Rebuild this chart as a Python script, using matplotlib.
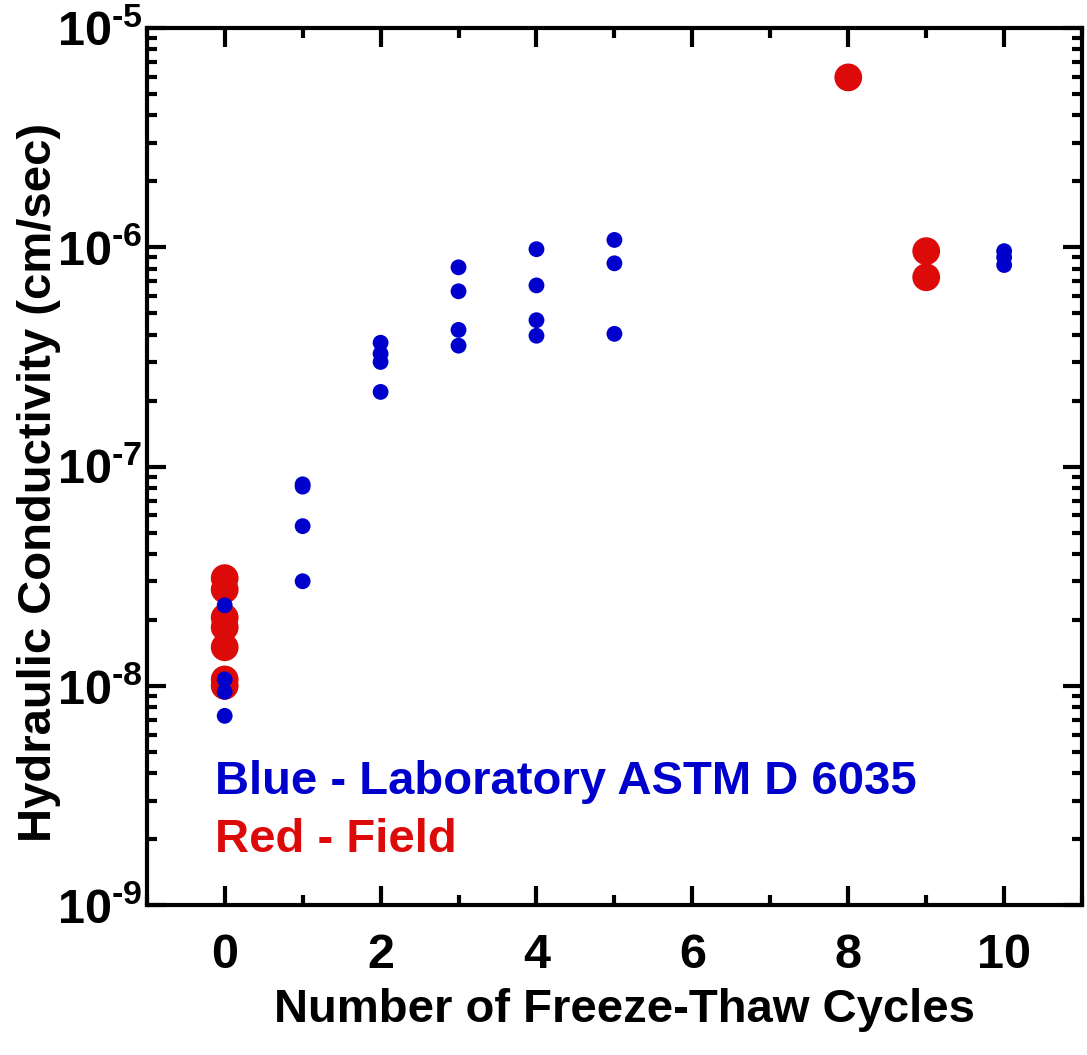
import matplotlib.pyplot as plt
from matplotlib.ticker import FixedLocator, FixedFormatter, LogLocator, NullFormatter

plt.rcParams['font.family'] = ['Liberation Sans', 'DejaVu Sans']
plt.rcParams['font.weight'] = 'bold'
plt.rcParams['mathtext.fontset'] = 'custom'
plt.rcParams['mathtext.rm'] = 'Liberation Sans:bold'
plt.rcParams['mathtext.bf'] = 'Liberation Sans:bold'
plt.rcParams['mathtext.it'] = 'Liberation Sans:bold'

# laboratory (blue) values
lab_x = [0, 0, 0, 0,
         1, 1, 1, 1,
         2, 2, 2, 2,
         3, 3, 3, 3,
         4, 4, 4, 4,
         5, 5, 5,
         10, 10, 10]
lab_k = [2.33e-8, 1.07e-8, 9.4e-9, 7.3e-9,
         8.3e-8, 8.1e-8, 5.35e-8, 3.0e-8,
         3.67e-7, 3.27e-7, 3.0e-7, 2.19e-7,
         8.1e-7, 6.3e-7, 4.2e-7, 3.56e-7,
         9.8e-7, 6.7e-7, 4.65e-7, 3.95e-7,
         1.08e-6, 8.45e-7, 4.03e-7,
         9.6e-7, 9.0e-7, 8.3e-7]

# field (red) values
field_x = [0, 0, 0, 0, 0, 0, 0, 8, 9, 9]
field_k = [3.1e-8, 2.75e-8, 2.05e-8, 1.85e-8, 1.5e-8, 1.07e-8, 1.0e-8,
           5.95e-6, 9.6e-7, 7.3e-7]

x_ticks = [0, 2, 4, 6, 8, 10]
y_ticks = [1e-9, 1e-8, 1e-7, 1e-6, 1e-5]
y_labels = [r'$\mathbf{10^{\text{-}9}}$', r'$\mathbf{10^{\text{-}8}}$', r'$\mathbf{10^{\text{-}7}}$',
            r'$\mathbf{10^{\text{-}6}}$', r'$\mathbf{10^{\text{-}5}}$']

fig = plt.figure(figsize=(10.87, 10.55), dpi=100)
ax = fig.add_axes([0.135, 0.142, 0.8605, 0.8315])

ax.scatter(field_x, field_k, s=400, color='#DD0A0A', edgecolors='none', zorder=3)
ax.scatter(lab_x, lab_k, s=130, color='#0000CC', edgecolors='none', zorder=4)

ax.set_yscale('log')
ax.set_xlim(-1, 11)
ax.set_ylim(1e-9, 1e-5)

ax.xaxis.set_major_locator(FixedLocator(x_ticks))
ax.xaxis.set_minor_locator(FixedLocator([-1, 1, 3, 5, 7, 9, 11]))
ax.yaxis.set_major_locator(FixedLocator(y_ticks))
ax.yaxis.set_major_formatter(FixedFormatter(y_labels))
ax.yaxis.set_minor_locator(LogLocator(base=10, subs=range(2, 10)))
ax.yaxis.set_minor_formatter(NullFormatter())

for s in ax.spines.values():
    s.set_linewidth(3)
ax.tick_params(which='both', direction='in', top=True, right=True, width=3)
ax.tick_params(which='major', length=14, labelsize=35)
ax.tick_params(which='minor', length=7)
ax.tick_params(axis='x', which='major', pad=20)
ax.tick_params(axis='y', which='major', pad=3)

ax.set_xlabel('Number of Freeze-Thaw Cycles', fontsize=34, fontweight='bold')
ax.set_ylabel('Hydraulic Conductivity (cm/sec)', fontsize=34, fontweight='bold')
ax.xaxis.set_label_coords(0.511, -0.094, transform=ax.transAxes)
ax.yaxis.set_label_coords(-0.092, 0.482, transform=ax.transAxes)

ax.text(-0.12, 1.75e-9, 'Red - Field', color='#DD0A0A', fontsize=34, fontweight='bold')
ax.text(-0.12, 3.2e-9, 'Blue - Laboratory ASTM D 6035', color='#0000CC', fontsize=34, fontweight='bold')

plt.savefig('out.png', dpi=100)
